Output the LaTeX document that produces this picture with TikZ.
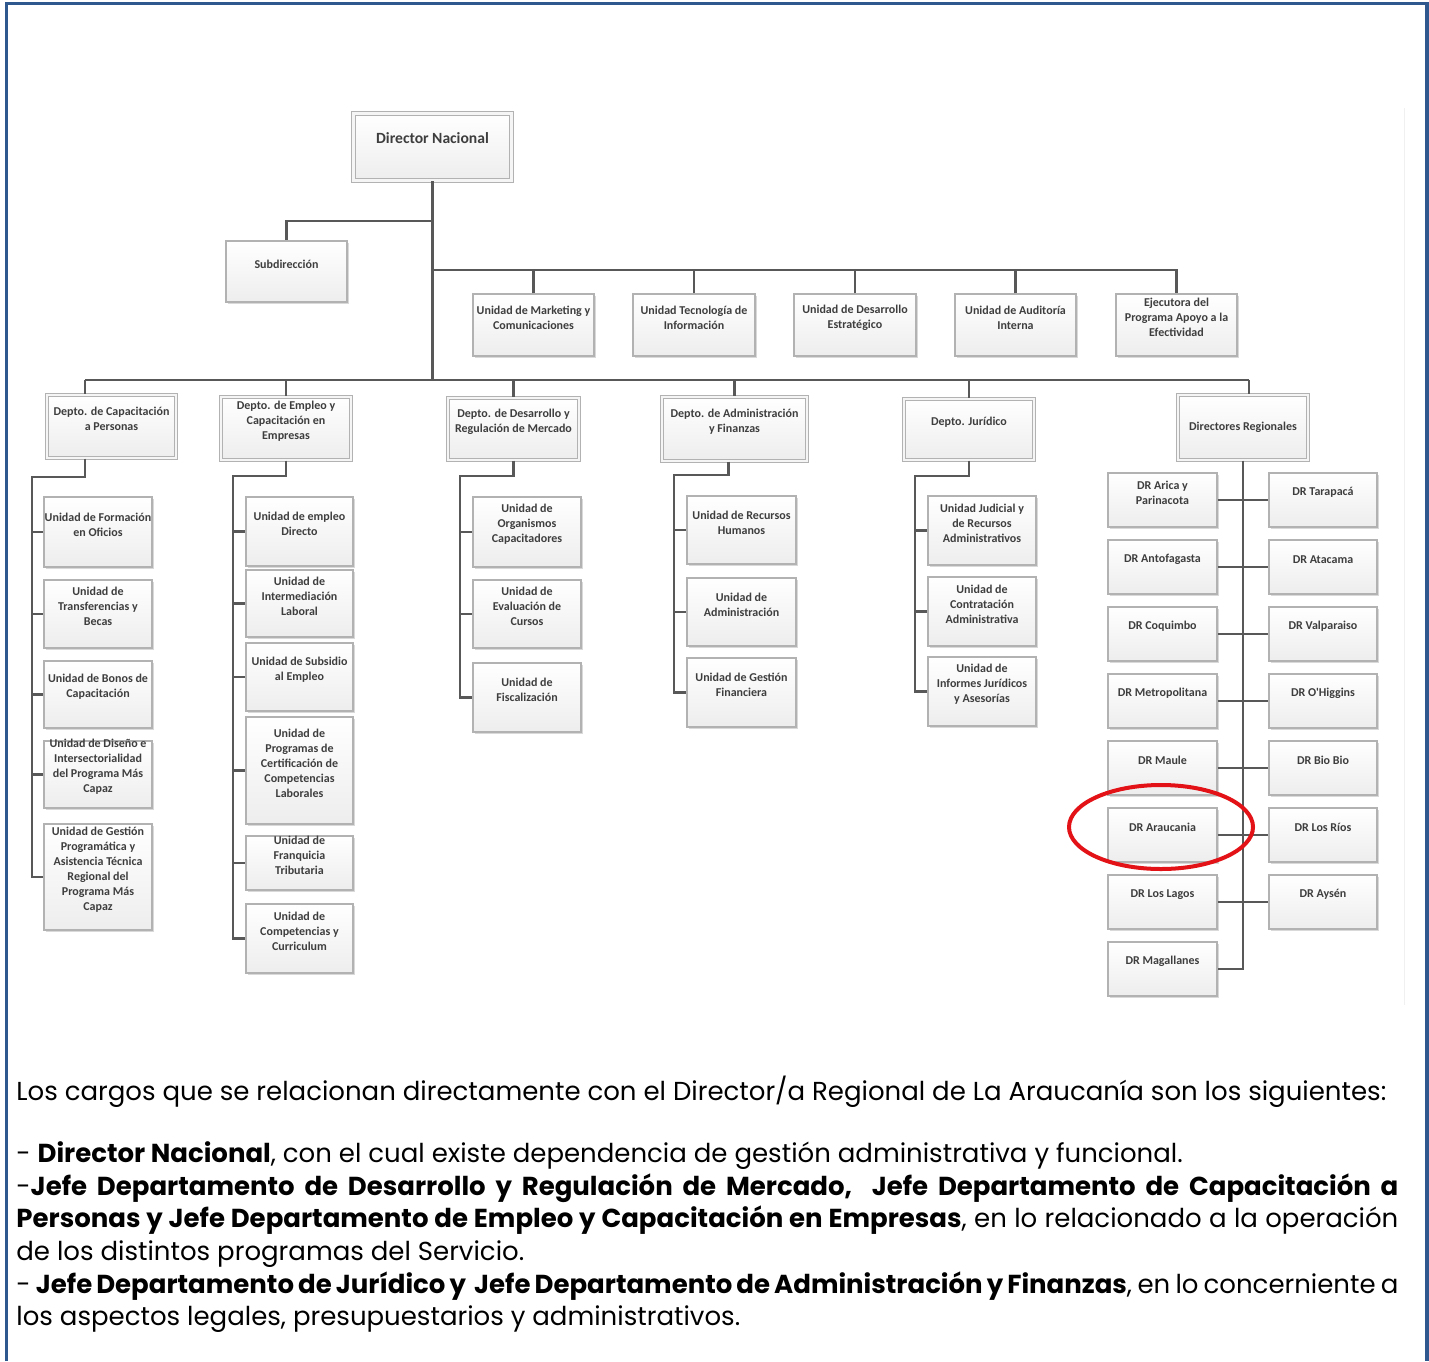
\documentclass[tikz,border=0pt]{standalone}
\usepackage{fontspec}
\usetikzlibrary{shadows,shapes.geometric}
\newfontfamily\boxfont{Carlito}
\newfontfamily\gothfont{Poppins}
\definecolor{frameblue}{RGB}{47,88,142}
\definecolor{boxtxt}{RGB}{62,62,62}
\definecolor{linegray}{RGB}{88,88,88}
\definecolor{hlred}{RGB}{226,18,22}
\tikzset{
  conn/.style={draw=linegray, line width=1.4pt},
  ubox/.style={draw=gray!60, line width=0.7pt, top color=white, bottom color=gray!14,
    drop shadow={shadow xshift=0.9pt, shadow yshift=-0.9pt, opacity=0.3}},
  dbox/.style={ubox, line width=0.55pt, double=gray!8, double distance=1.2pt},
  boxtext/.style={inner sep=0pt, align=center, text=boxtxt, font=\boxfont\bfseries\fontsize{6}{7.5}\selectfont},
  bodytext/.style={inner sep=0pt, anchor=base west, font=\gothfont\fontsize{13}{16}\selectfont}
}
% box from (x1,y1) to (x2,y2) in pixels, text a little above the middle
\def\orgbox[#1]#2(#3,#4,#5,#6)#7{%
  \node[#1, minimum width={(#5-#3)*0.5pt}, minimum height={(#6-#4)*0.5pt}] (#2) at ({(#3+#5)/2},{(#4+#6)/2}) {};
  \node[boxtext] (#2-t) at ([yshift=3.75pt]#2.center) {#7};}

\begin{document}
\begin{tikzpicture}[x=0.5pt, y=-0.5pt]
  \useasboundingbox (0,0) rectangle (1429,1361);

  %%%%% frame %%%%%
  \draw[frameblue, line width=1.75pt] (6.5,1361) -- (6.5,3.5) -- (1427,3.5) -- (1427,1361);
  \draw[gray!12, line width=0.5pt] (1404,108) -- (1404,1005);

  %%%%% top %%%%%
  \node[dbox, minimum width=79pt, minimum height=33.5pt] (dir) at (432.5,147) {};
  \node[boxtext, font=\boxfont\bfseries\fontsize{7.8}{9}\selectfont] (dir-t) at ([yshift=4.5pt]dir.center) {Director Nacional};
  \orgbox[ubox]{subdir}(226,241,347,302){Subdirección}

  \orgbox[ubox]{mkt}(473,294,594,356){Unidad de Marketing y\\Comunicaciones}
  \orgbox[ubox]{tec}(633,294,755,356){Unidad Tecnología de\\Información}
  \orgbox[ubox]{est}(794,294,916,356){Unidad de Desarrollo\\Estratégico}
  \orgbox[ubox]{aud}(955,294,1076,356){Unidad de Auditoría\\Interna}
  \orgbox[ubox]{ejec}(1116,294,1237,356){Ejecutora del\\Programa Apoyo a la\\Efectividad}

  %%%%% departments %%%%%
  \orgbox[dbox]{cap}(47,395,176,458){Depto. de Capacitación\\a Personas}
  \orgbox[dbox]{emp}(221,397,351,460){Depto. de Empleo y\\Capacitación en\\Empresas}
  \orgbox[dbox]{mer}(448,398,579,460){Depto. de Desarrollo y\\Regulación de Mercado}
  \orgbox[dbox]{adm}(662,397,807,461){Depto. de Administración\\y Finanzas}
  \orgbox[dbox]{jur}(904,399,1034,460){Depto. Jurídico}
  \node[dbox, minimum width=65pt, minimum height=32.5pt] (dreg) at (1243,427.5) {};
  \node[boxtext] (dreg-t) at (dreg.center) {Directores Regionales};

  %%%%% units under each department %%%%%
  \orgbox[ubox]{cp1}(44,497,152,567){Unidad de Formación\\en Oficios}
  \orgbox[ubox]{cp2}(44,580,152,648){Unidad de\\Transferencias y\\Becas}
  \orgbox[ubox]{cp3}(44,661,152,728){Unidad de Bonos de\\Capacitación}
  \orgbox[ubox]{cp4}(44,741,152,808){Unidad de Diseño e\\Intersectorialidad\\del Programa Más\\Capaz}
  \orgbox[ubox]{cp5}(44,824,152,930){Unidad de Gestión\\Programática y\\Asistencia Técnica\\Regional del\\Programa Más\\Capaz}

  \orgbox[ubox]{em1}(246,497,353,566){Unidad de empleo\\Directo}
  \orgbox[ubox]{em2}(246,570,353,637){Unidad de\\Intermediación\\Laboral}
  \orgbox[ubox]{em3}(246,643,353,711){Unidad de Subsidio\\al Empleo}
  \orgbox[ubox]{em4}(246,717,353,824){Unidad de\\Programas de\\Certificación de\\Competencias\\Laborales}
  \orgbox[ubox]{em5}(246,836,353,890){Unidad de\\Franquicia\\Tributaria}
  \orgbox[ubox]{em6}(246,904,353,973){Unidad de\\Competencias y\\Curriculum}

  \orgbox[ubox]{mr1}(473,497,581,567){Unidad de\\Organismos\\Capacitadores}
  \orgbox[ubox]{mr2}(473,580,581,648){Unidad de\\Evaluación de\\Cursos}
  \orgbox[ubox]{mr3}(473,663,581,732){Unidad de\\Fiscalización}

  \orgbox[ubox]{ad1}(687,496,796,564){Unidad de Recursos\\Humanos}
  \orgbox[ubox]{ad2}(687,578,796,646){Unidad de\\Administración}
  \orgbox[ubox]{ad3}(687,658,796,727){Unidad de Gestión\\Financiera}

  \orgbox[ubox]{ju1}(928,496,1036,565){Unidad Judicial y\\de Recursos\\Administrativos}
  \orgbox[ubox]{ju2}(928,577,1036,646){Unidad de\\Contratación\\Administrativa}
  \orgbox[ubox]{ju3}(928,657,1036,726){Unidad de\\Informes Jurídicos\\y Asesorías}

  %%%%% regional directors %%%%%
  \foreach \lab [count=\k] in {DR Arica y\\Parinacota, DR Antofagasta, DR Coquimbo, DR Metropolitana, DR Maule, DR Araucania, DR Los Lagos, DR Magallanes}{
    \pgfmathsetmacro\ya{473+67*(\k-1)}
    \pgfmathsetmacro\yb{\ya+54}
    \orgbox[ubox]{dl\k}(1108,\ya,1217,\yb){\lab}
  }
  \foreach \lab [count=\k] in {DR Tarapacá, DR Atacama, DR Valparaiso, DR O'Higgins, DR Bio Bio, DR Los Ríos, DR Aysén}{
    \pgfmathsetmacro\ya{473+67*(\k-1)}
    \pgfmathsetmacro\yb{\ya+54}
    \orgbox[ubox]{dr\k}(1269,\ya,1377,\yb){\lab}
  }

  %%%%% connectors %%%%%
  \coordinate (jsub) at (433,221);
  \coordinate (junit) at (433,270);
  \coordinate (jdeptL) at (85,380);
  \coordinate (jdeptR) at (1249,380);
  \draw[conn] (dir.south) -- (dir.south |- jdeptL);
  \draw[conn] (jsub) -| (subdir.north);
  \draw[conn] (junit) -| (ejec.north);
  \foreach \u in {mkt,tec,est,aud}
    \draw[conn] (\u.north) -- (\u.north |- junit);
  \draw[conn] (jdeptL) -- (jdeptR);
  \draw[conn] (jdeptL) -- (cap.north -| jdeptL);
  \foreach \d in {emp,mer,adm,jur}
    \draw[conn] (\d.north |- jdeptL) -- (\d.north);
  \draw[conn] (jdeptR) -- (dreg.north -| jdeptR);

  \coordinate (capbus) at (32,477);
  \coordinate (empbus) at (233,476);
  \coordinate (merbus) at (460,476);
  \coordinate (admbus) at (674,475);
  \coordinate (jurbus) at (915,476);
  \draw[conn] (cap.south -| jdeptL) |- (capbus) |- (cp5.west);
  \foreach \k in {1,...,4}
    \draw[conn] (cp\k.west -| capbus) -- (cp\k.west);
  \draw[conn] (emp.south) |- (empbus) |- (em6.west);
  \foreach \k in {1,...,5}
    \draw[conn] (em\k.west -| empbus) -- (em\k.west);
  \draw[conn] (mer.south) |- (merbus) |- (mr3.west);
  \foreach \k in {1,2}
    \draw[conn] (mr\k.west -| merbus) -- (mr\k.west);
  \draw[conn] ([xshift=-3pt]adm.south) |- (admbus) |- (ad3.west);
  \foreach \k in {1,2}
    \draw[conn] (ad\k.west -| admbus) -- (ad\k.west);
  \draw[conn] (jur.south) |- (jurbus) |- (ju3.west);
  \foreach \k in {1,2}
    \draw[conn] (ju\k.west -| jurbus) -- (ju\k.west);

  \draw[conn] (dreg.south) |- (dl8.east);
  \foreach \k in {1,...,7}
    \draw[conn] (dl\k.east) -- (dr\k.west);

  %%%%% highlight %%%%%
  \node[draw=hlred, ellipse, line width=2pt, inner sep=0pt, minimum width=92pt, minimum height=42pt] (hl) at (1161,827) {};

  %%%%% text below %%%%%
  \node[bodytext] (intro) at (16,1100) {Los cargos que se relacionan directamente con el Director/a Regional de La Araucanía son los siguientes:};
  \node[bodytext] (b1) at (16,1162) {- \textbf{Director Nacional}, con el cual existe dependencia de gestión administrativa y funcional.};
  \node[bodytext] (b2) at (16,1195) {\hbox to 691pt{-\textbf{Jefe Departamento de Desarrollo y Regulación de Mercado,\ \ Jefe Departamento de Capacitación a}}};
  \node[bodytext] (b3) at (16,1227) {\hbox to 691pt{\textbf{Personas y Jefe Departamento de Empleo y Capacitación en Empresas}, en lo relacionado a la operación}};
  \node[bodytext] (b4) at (16,1260) {de los distintos programas del Servicio.};
  \node[bodytext] (b5) at (16,1293) {\hbox to 691pt{- \textbf{Jefe Departamento de Jurídico y\ \ Jefe Departamento de Administración y Finanzas}, en lo concerniente a}};
  \node[bodytext] (b6) at (16,1325) {los aspectos legales, presupuestarios y administrativos.};
\end{tikzpicture}
\end{document}
